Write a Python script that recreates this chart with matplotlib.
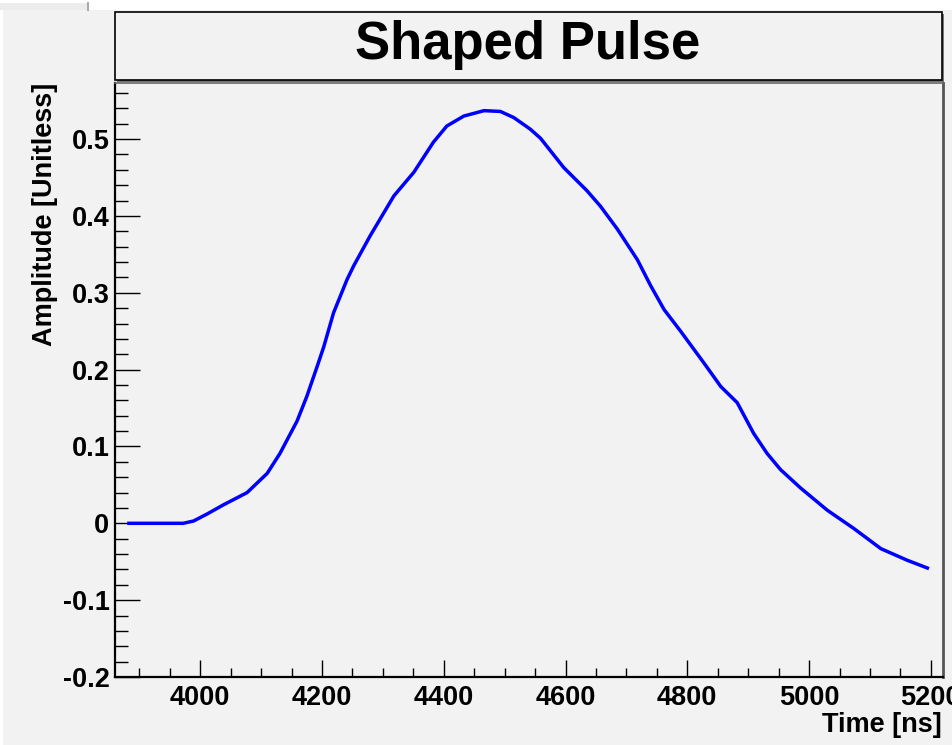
"""Shaped pulse, ROOT-style canvas redrawn with matplotlib."""
import matplotlib
matplotlib.use("Agg")
import matplotlib.pyplot as plt
from matplotlib.patches import Rectangle
from matplotlib.ticker import MultipleLocator

# pulse samples (time in ns, amplitude unitless)
time_ns = [3880, 3930, 3972, 3989, 4011, 4038, 4077, 4110, 4131, 4159, 4175,
           4192, 4203, 4219, 4241, 4252, 4279, 4318, 4351, 4383, 4405, 4433,
           4466, 4493, 4515, 4542, 4559, 4597, 4635, 4657, 4685, 4718, 4740,
           4762, 4789, 4827, 4855, 4882, 4909, 4931, 4953, 4986, 5030, 5074,
           5118, 5161, 5197]
amplitude = [0.0, 0.0, 0.0, 0.003, 0.012, 0.024, 0.040, 0.065, 0.091, 0.133,
             0.165, 0.204, 0.230, 0.274, 0.317, 0.335, 0.374, 0.426, 0.457,
             0.496, 0.517, 0.530, 0.537, 0.536, 0.528, 0.513, 0.501, 0.463,
             0.433, 0.413, 0.383, 0.343, 0.309, 0.278, 0.250, 0.209, 0.178,
             0.157, 0.117, 0.091, 0.070, 0.046, 0.017, -0.007, -0.033, -0.048,
             -0.059]

TITLE = "Shaped Pulse"
XLABEL = "Time [ns]"
YLABEL = "Amplitude [Unitless]"

W, H = 952, 745
BG = "#f2f2f2"
FONT = "Liberation Sans"

plt.rcParams["font.family"] = [FONT, "DejaVu Sans"]
plt.rcParams["font.weight"] = "bold"

fig = plt.figure(figsize=(W / 100, H / 100), dpi=100, facecolor="white")


def fx(px):
    return px / W


def fy(py):
    return 1 - py / H


# canvas background (screenshot offset a few px from the corner)
fig.patches.append(Rectangle((fx(3), 0), 1, fy(10), transform=fig.transFigure,
                             facecolor=BG, edgecolor="none", zorder=-2))
fig.patches.append(Rectangle((0, fy(10)), fx(88), fy(3) - fy(10),
                             transform=fig.transFigure, facecolor="#ececec",
                             edgecolor="none", zorder=-2))
fig.add_artist(plt.Line2D([fx(88), fx(88)], [fy(3), fy(10)],
                          transform=fig.transFigure, color="#aaaaaa", lw=1.5))

# title box with shadow
tx0, tx1, ty0, ty1 = 115, 942, 12, 80
fig.patches.append(Rectangle((fx(tx0 + 2), fy(ty1 + 2)), fx(tx1 - tx0),
                             fy(ty0) - fy(ty1), transform=fig.transFigure,
                             facecolor="#777777", edgecolor="none", zorder=1))
fig.patches.append(Rectangle((fx(tx0), fy(ty1)), fx(tx1 - tx0),
                             fy(ty0) - fy(ty1), transform=fig.transFigure,
                             facecolor=BG, edgecolor="black", lw=1.2, zorder=2))
fig.text(fx(528), fy(58.5), TITLE, ha="center", va="baseline", fontsize=38,
         fontweight="bold", zorder=3)

# plot frame
ax_l, ax_r, ax_t, ax_b = 115, 943, 83, 677
ax = fig.add_axes([fx(ax_l), fy(ax_b), fx(ax_r - ax_l), fy(ax_t) - fy(ax_b)])
ax.set_zorder(5)
ax.set_facecolor(BG)
ax.plot(time_ns, amplitude, color="#0000ff", lw=2.5, solid_capstyle="butt",
        solid_joinstyle="round", zorder=3)

ax.set_xlim(3860, 5220)
ax.set_ylim(-0.2, 0.573)
ax.xaxis.set_major_locator(MultipleLocator(200))
ax.xaxis.set_minor_locator(MultipleLocator(50))
ax.yaxis.set_major_locator(MultipleLocator(0.1))
ax.yaxis.set_minor_locator(MultipleLocator(0.02))
ax.yaxis.set_major_formatter(plt.FuncFormatter(
    lambda v, _: "0" if abs(v) < 1e-9 else f"{v:.1f}"))

ax.tick_params(axis="x", which="major", direction="in", length=12.5, width=1,
               pad=6, labelsize=19.5)
ax.tick_params(axis="x", which="minor", direction="in", length=6.5, width=1)
ax.tick_params(axis="y", which="major", direction="in", length=18, width=1,
               pad=4, labelsize=19.5)
ax.tick_params(axis="y", which="minor", direction="in", length=9.5, width=1)
for lbl in ax.get_xticklabels() + ax.get_yticklabels():
    lbl.set_fontweight("bold")

for side in ("left", "bottom"):
    ax.spines[side].set_color("black")
    ax.spines[side].set_linewidth(1.6)
ax.spines["top"].set_color("#666666")
ax.spines["top"].set_linewidth(1.2)
ax.spines["right"].set_color("#555555")
ax.spines["right"].set_linewidth(2)

fig.text(fx(942), fy(725), XLABEL, ha="right", va="center", fontsize=19.5,
         fontweight="bold")
fig.text(fx(45), fy(83), YLABEL, ha="center", va="top", rotation=90,
         fontsize=19.5, fontweight="bold")

fig.savefig("out.png", dpi=100, facecolor=fig.get_facecolor())
